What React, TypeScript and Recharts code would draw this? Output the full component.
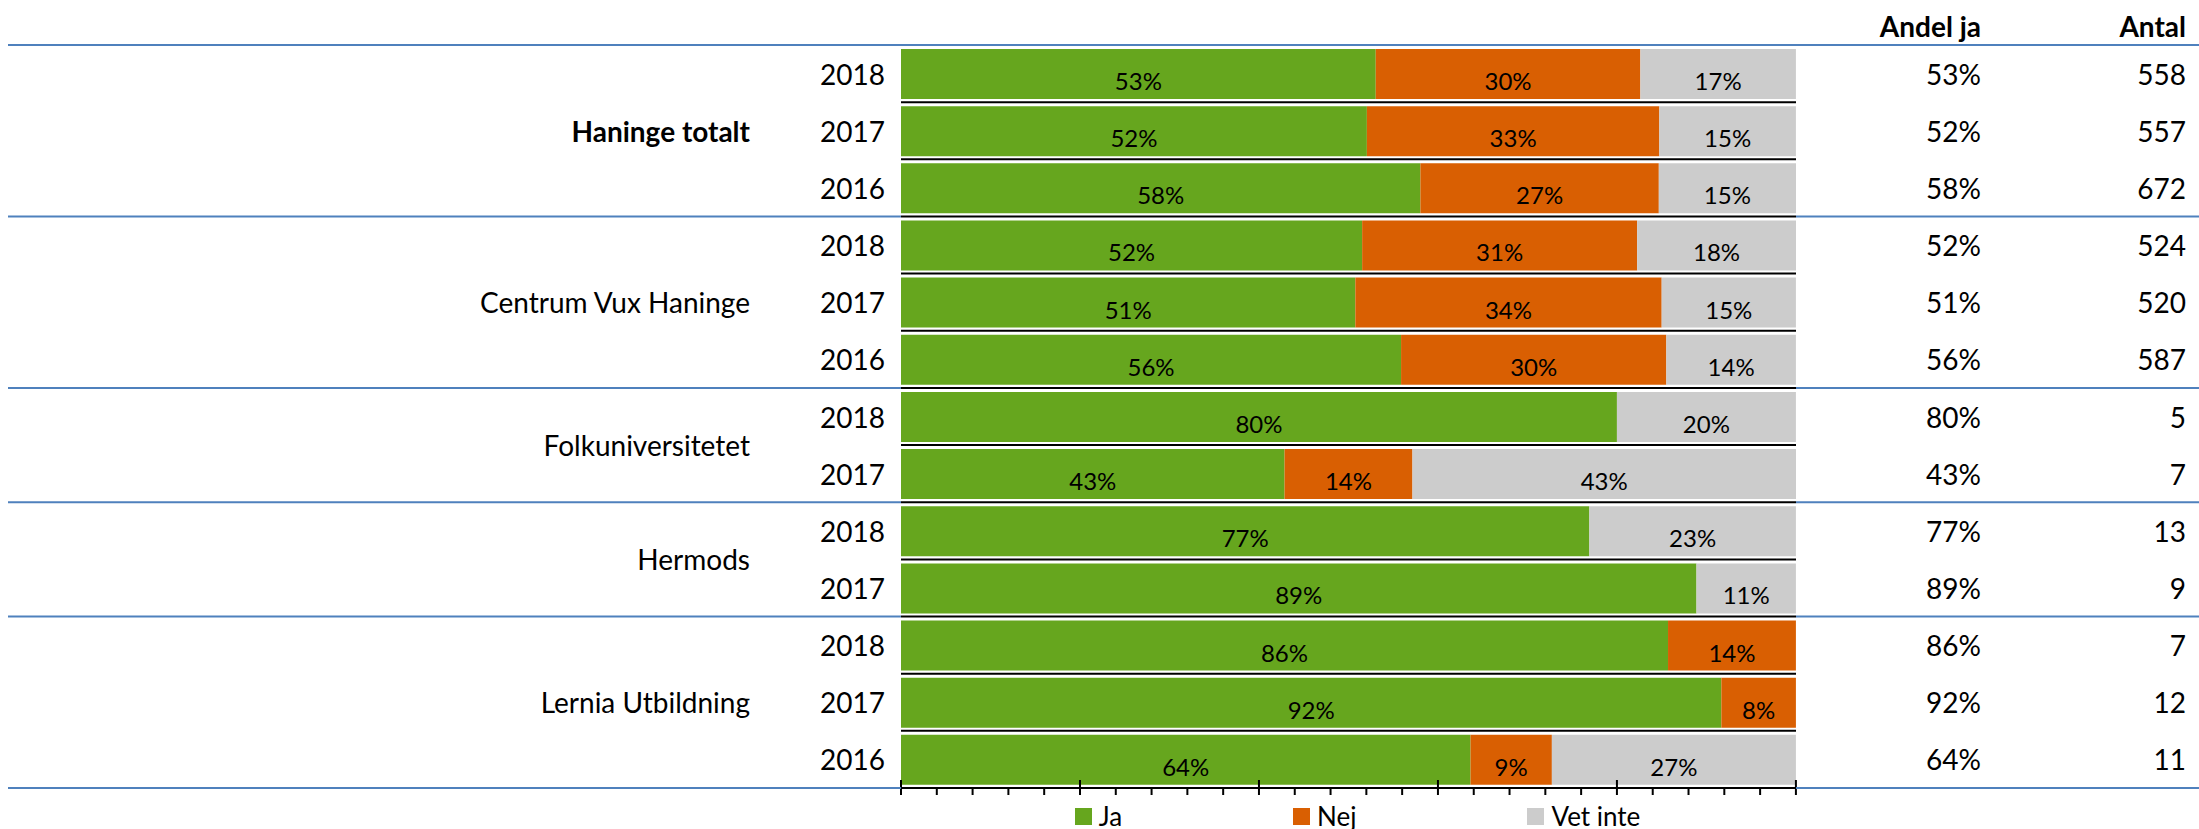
import React from 'react';
import { BarChart, Bar, XAxis, YAxis, LabelList, ReferenceLine, Legend } from 'recharts';

// Survey data (share in %, n = answers)
const groups = ['Haninge totalt', 'Centrum Vux Haninge', 'Folkuniversitetet', 'Hermods', 'Lernia Utbildning'];
const years = [
  ['2018', '2017', '2016'],
  ['2018', '2017', '2016'],
  ['2018', '2017'],
  ['2018', '2017'],
  ['2018', '2017', '2016'],
];
const jaValues = [[53.05, 52.06, 58.04], [51.53, 50.77, 55.88], [80, 42.86], [76.92, 88.89], [85.71, 91.67, 63.64]];
const nejValues = [[29.57, 32.68, 26.64], [30.73, 34.23, 29.64], [0, 14.29], [0, 0], [14.29, 8.33, 9.09]];
const vetInteValues = [[17.38, 15.26, 15.33], [17.75, 15.0, 14.48], [20, 42.86], [23.08, 11.11], [0, 0, 27.27]];
const andelJa = [['53%', '52%', '58%'], ['52%', '51%', '56%'], ['80%', '43%'], ['77%', '89%'], ['86%', '92%', '64%']];
const antal = [[558, 557, 672], [524, 520, 587], [5, 7], [13, 9], [7, 12, 11]];
const xTicks = [0, 4, 8, 12, 16, 20, 24, 28, 32, 36, 40, 44, 48, 52, 56, 60, 64, 68, 72, 76, 80, 84, 88, 92, 96, 100];

const W = 2199;
const H = 829;
const MARGIN = { top: 45, right: 0, bottom: 0, left: 8 };
const LEFT_AXIS_W = 893;
const RIGHT_AXIS_W = 403;
const PLOT_LEFT = MARGIN.left + LEFT_AXIS_W;
const PLOT_RIGHT = W - MARGIN.right - RIGHT_AXIS_W;
const PLOT_BOTTOM = 788;

const rows = groups.flatMap((g, gi) =>
  years[gi].map((yr, pi) => ({
    id: `${gi}-${yr}`,
    group: g,
    gi,
    pos: pi,
    size: years[gi].length,
    year: yr,
    ja: jaValues[gi][pi],
    nej: nejValues[gi][pi],
    vetInte: vetInteValues[gi][pi],
    andel: andelJa[gi][pi],
    antal: antal[gi][pi],
  }))
);
const ROW_H = (PLOT_BOTTOM - MARGIN.top) / rows.length;

const BLUE = '#4F81BD';
const FONT = 'Lato, sans-serif';

const blueLine = (y: number, full: boolean, key: string) =>
  full ? (
    <line key={key} x1={MARGIN.left} x2={W} y1={y} y2={y} stroke={BLUE} strokeWidth={2} />
  ) : (
    <g key={key}>
      <line x1={MARGIN.left} x2={PLOT_LEFT} y1={y} y2={y} stroke={BLUE} strokeWidth={2} />
      <line x1={PLOT_RIGHT} x2={W} y1={y} y2={y} stroke={BLUE} strokeWidth={2} />
    </g>
  );

const LeftTick = ({ x, y, payload }: any) => {
  const row = rows.find((r) => r.id === payload.value);
  if (!row) return null;
  const isLastRow = row.id === rows[rows.length - 1].id;
  return (
    <g>
      {row.pos === 0 && blueLine(y - ROW_H / 2, row.gi === 0, 'top')}
      {isLastRow && blueLine(y + ROW_H / 2, false, 'bottom')}
      <text x={x - 16} y={y + 11} textAnchor="end" fontSize={28} fill="#000" fontFamily={FONT}>
        {row.year}
      </text>
      {row.pos === 0 && (
        <text
          x={x - 151}
          y={y + ((row.size - 1) / 2) * ROW_H + 11}
          textAnchor="end"
          fontSize={28}
          fontWeight={row.gi === 0 ? 700 : 400}
          fill="#000"
          fontFamily={FONT}
        >
          {row.group}
        </text>
      )}
    </g>
  );
};

const RightTick = ({ x, y, payload }: any) => {
  const row = rows.find((r) => r.id === payload.value);
  if (!row) return null;
  return (
    <g fontFamily={FONT} fontSize={28} fill="#000">
      {row.id === rows[0].id && (
        <>
          <text x={x + 185} y={y - ROW_H / 2 - 8} textAnchor="end" fontWeight={700}>Andel ja</text>
          <text x={x + 390} y={y - ROW_H / 2 - 8} textAnchor="end" fontWeight={700}>Antal</text>
        </>
      )}
      <text x={x + 185} y={y + 11} textAnchor="end">{row.andel}</text>
      <text x={x + 390} y={y + 11} textAnchor="end">{row.antal}</text>
    </g>
  );
};

const XTick = ({ x, y, payload }: any) => {
  const major = payload.value % 20 === 0;
  return major ? (
    <line x1={x} x2={x} y1={y - 8} y2={y + 7} stroke="#000" strokeWidth={2} />
  ) : (
    <line x1={x} x2={x} y1={y} y2={y + 7} stroke="#000" strokeWidth={2} />
  );
};

const BarLabel = ({ x, y, width, height, value }: any) => {
  if (!value) return null;
  return (
    <text
      x={Number(x) + Number(width) / 2}
      y={Number(y) + Number(height) / 2 + 16}
      textAnchor="middle"
      fontSize={24}
      fill="#000"
      fontFamily={FONT}
    >
      {Math.round(value)}%
    </text>
  );
};

const LegendContent = ({ payload }: any) => (
  <div
    style={{
      display: 'flex',
      justifyContent: 'center',
      gap: 171,
      height: 34,
      paddingTop: 8,
      boxSizing: 'border-box',
      fontFamily: FONT,
      fontSize: 26,
      color: '#000',
    }}
  >
    {(payload || []).map((p: any) => (
      <div key={p.value} style={{ display: 'flex', alignItems: 'center', gap: 7, height: 26 }}>
        <span style={{ display: 'inline-block', width: 17, height: 17, background: p.color }} />
        <span style={{ lineHeight: 1 }}>{p.value}</span>
      </div>
    ))}
  </div>
);

export default function App() {
  return (
    <div style={{ position: 'absolute', left: 0, top: 0, width: W, height: H, background: '#fff' }}>
      <BarChart width={W} height={H} data={rows} layout="vertical" margin={MARGIN} style={{ fontFamily: FONT }}>
        <XAxis
          type="number"
          domain={[0, 100]}
          ticks={xTicks}
          interval={0}
          tickSize={0}
          tickMargin={0}
          height={7}
          axisLine={{ stroke: '#000', strokeWidth: 2 }}
          tickLine={false}
          tick={<XTick />}
        />
        <YAxis
          yAxisId="left"
          type="category"
          dataKey="id"
          width={LEFT_AXIS_W}
          interval={0}
          tickSize={0}
          tickMargin={0}
          axisLine={false}
          tickLine={false}
          tick={<LeftTick />}
        />
        <YAxis
          yAxisId="right"
          orientation="right"
          type="category"
          dataKey="id"
          width={RIGHT_AXIS_W}
          interval={0}
          tickSize={0}
          tickMargin={0}
          axisLine={false}
          tickLine={false}
          tick={<RightTick />}
        />
        <Bar yAxisId="left" dataKey="ja" name="Ja" stackId="a" fill="#66A61E" barSize={50} isAnimationActive={false}>
          <LabelList dataKey="ja" content={<BarLabel />} />
        </Bar>
        <Bar yAxisId="left" dataKey="nej" name="Nej" stackId="a" fill="#D95F02" barSize={50} isAnimationActive={false}>
          <LabelList dataKey="nej" content={<BarLabel />} />
        </Bar>
        <Bar yAxisId="left" dataKey="vetInte" name="Vet inte" stackId="a" fill="#CCCCCC" barSize={50} isAnimationActive={false}>
          <LabelList dataKey="vetInte" content={<BarLabel />} />
        </Bar>
        {rows.slice(0, -1).map((r) => (
          <ReferenceLine key={r.id} yAxisId="left" y={r.id} position="end" stroke="#000" strokeWidth={2} />
        ))}
        <Legend verticalAlign="bottom" content={<LegendContent />} wrapperStyle={{ left: 910, width: 895, bottom: 0 }} />
      </BarChart>
    </div>
  );
}
